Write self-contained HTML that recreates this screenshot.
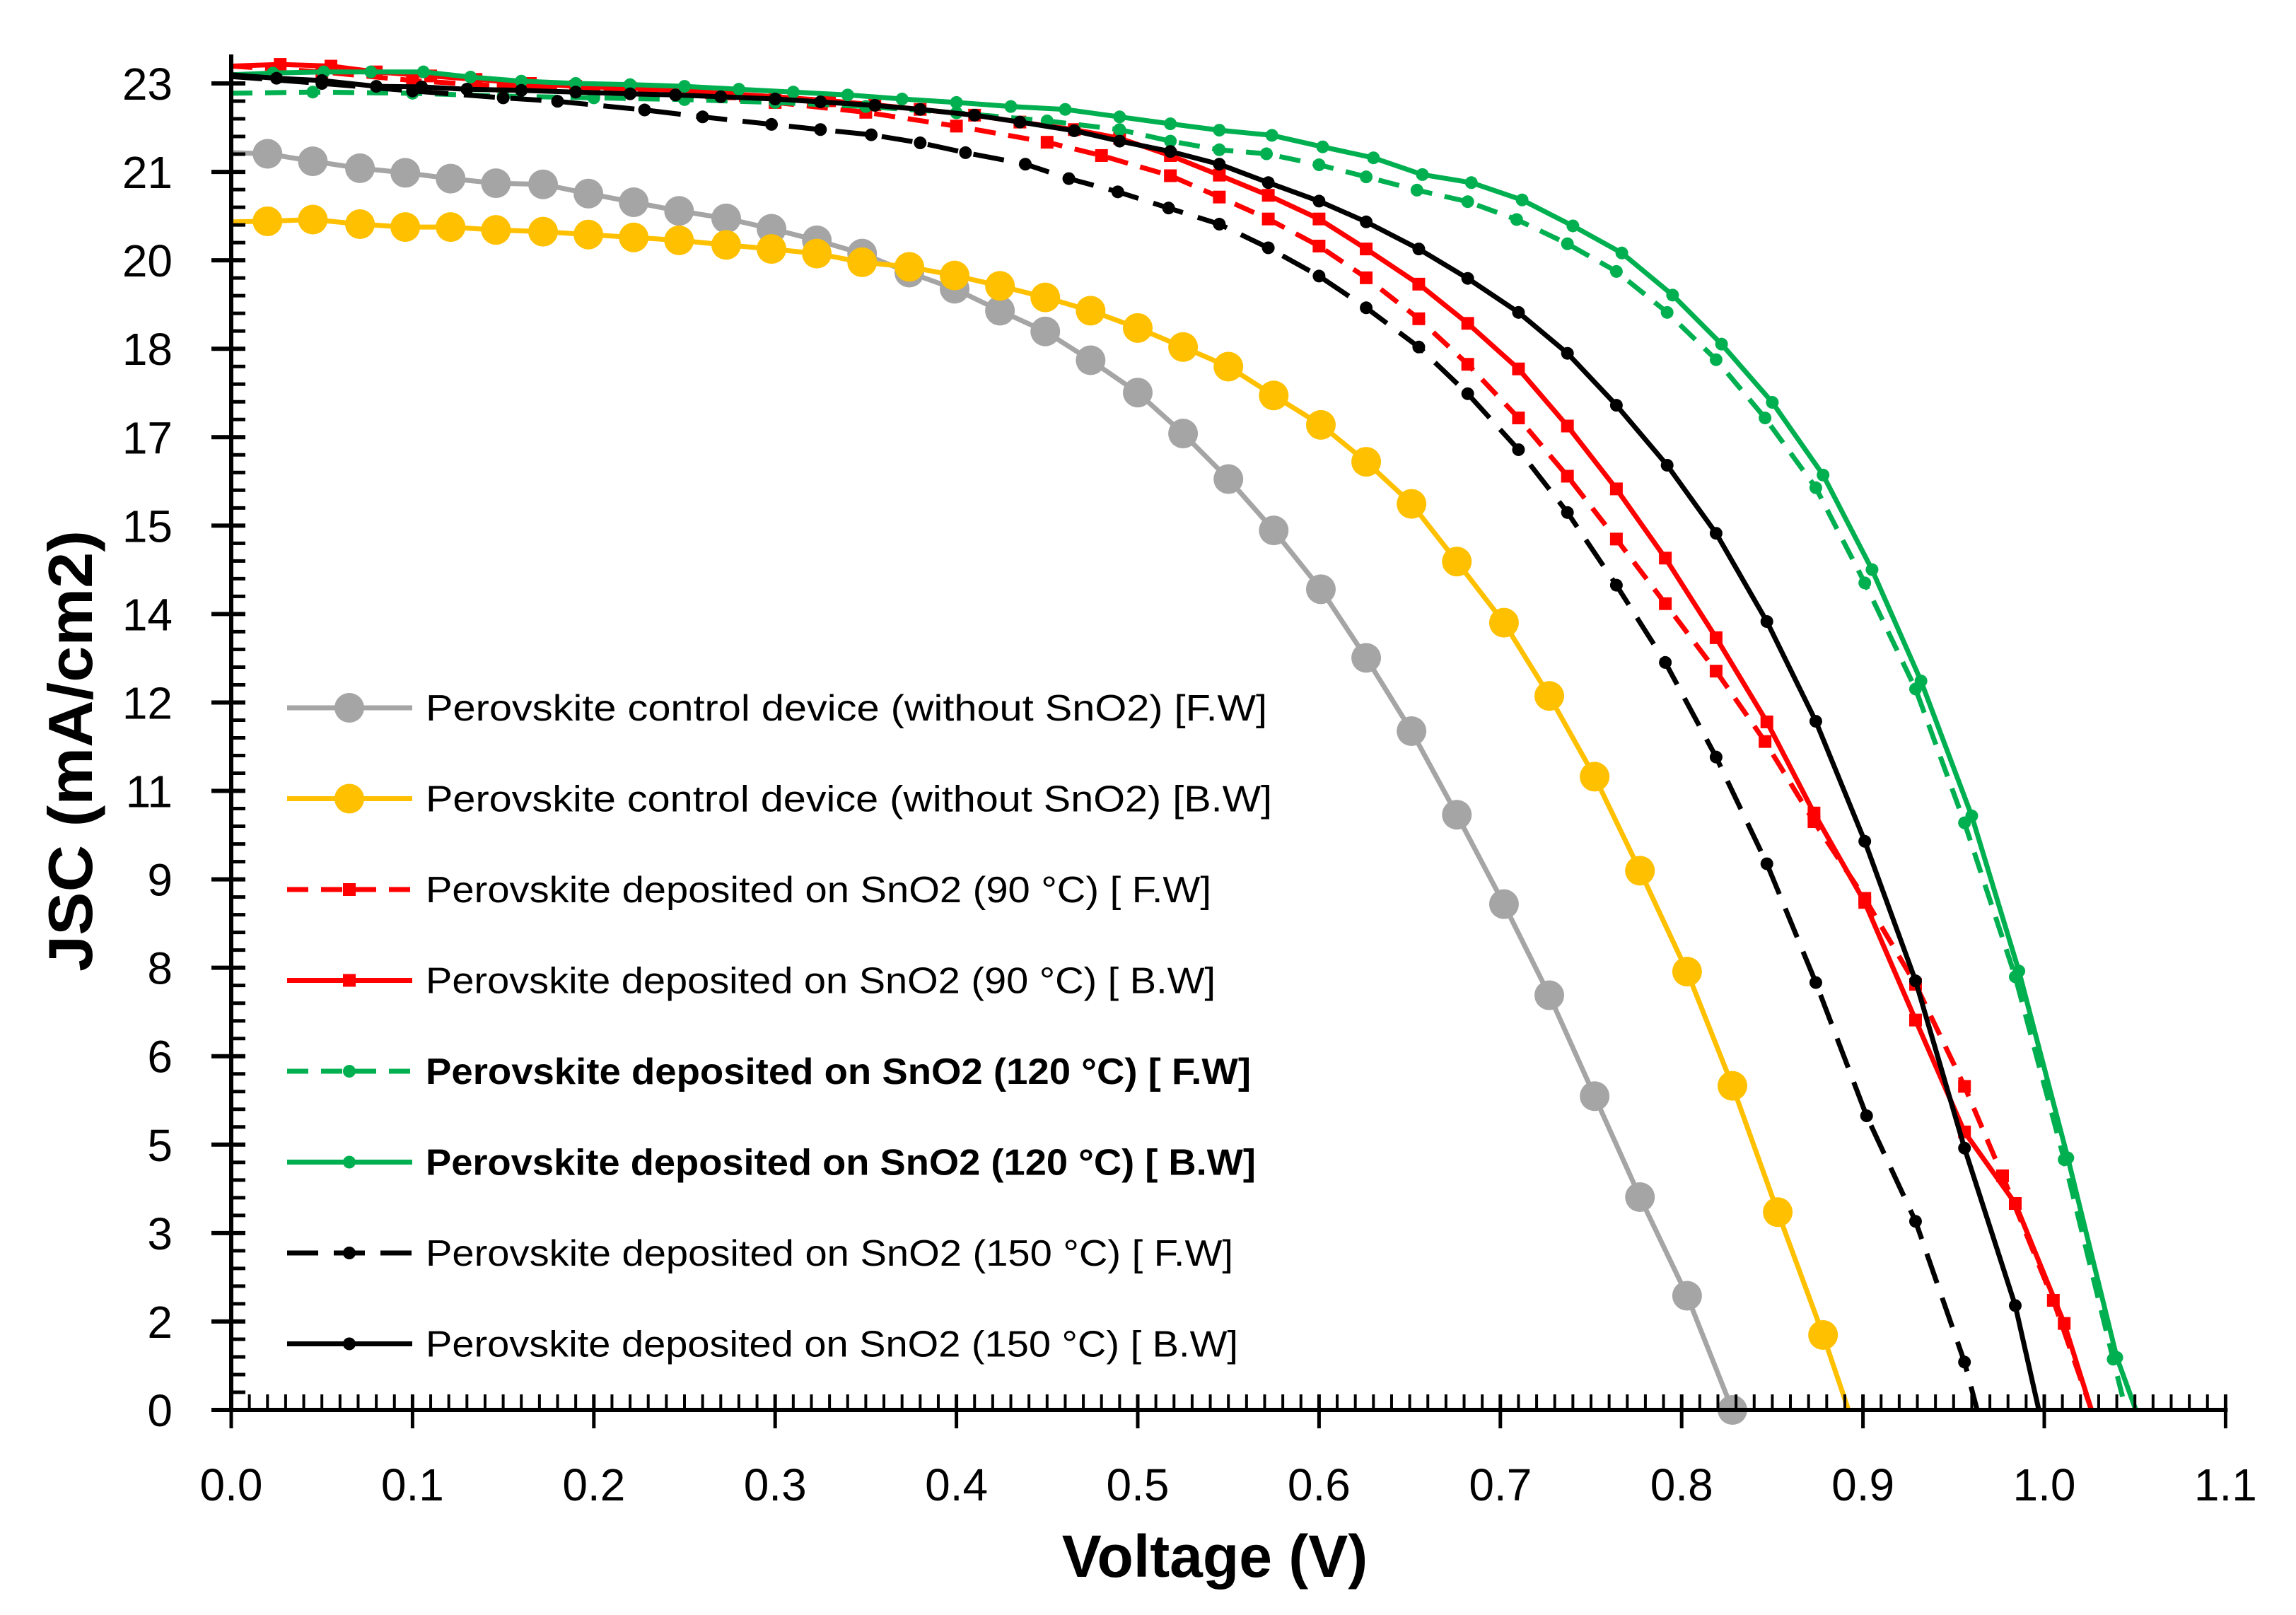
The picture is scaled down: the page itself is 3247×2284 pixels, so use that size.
<!DOCTYPE html>
<html><head><meta charset="utf-8"><style>
html,body{margin:0;padding:0;background:#fff;}
svg{display:block;}
text{font-family:"Liberation Sans",sans-serif;}
</style></head><body>
<svg id="chart" width="3247" height="2284" viewBox="0 0 3247 2284" xmlns="http://www.w3.org/2000/svg">
<rect x="0" y="0" width="3247" height="2284" fill="#fff"/>
<g id="series-layer"></g>
<g id="axis-layer"></g>
<g id="legend-layer"></g>
</svg>
<script>
// ---- data (voltage in V, current density in mA/cm2) ----
const xTicks = ["0.0","0.1","0.2","0.3","0.4","0.5","0.6","0.7","0.8","0.9","1.0","1.1"];
const yTickLabels = ["0","2","3","5","6","8","9","11","12","14","15","17","18","20","21","23"];

const greyV = [0,0.020,0.045,0.071,0.096,0.121,0.146,0.172,0.197,0.222,0.247,0.273,0.298,0.323,0.348,0.374,0.399,0.424,0.449,0.474,0.500,0.525,0.550,0.575,0.601,0.626,0.651,0.676,0.702,0.727,0.752,0.777,0.803,0.828];
const greyJ = [21.8,21.78,21.65,21.53,21.45,21.35,21.27,21.25,21.09,20.94,20.79,20.66,20.48,20.28,20.05,19.72,19.44,19.06,18.70,18.20,17.64,16.93,16.14,15.25,14.23,13.04,11.77,10.32,8.77,7.19,5.44,3.69,1.98,0];

const yellowV = [0,0.020,0.045,0.071,0.096,0.121,0.146,0.172,0.197,0.222,0.247,0.273,0.298,0.323,0.348,0.374,0.399,0.424,0.449,0.474,0.500,0.525,0.550,0.575,0.601,0.626,0.651,0.676,0.702,0.727,0.752,0.777,0.803,0.828,0.853,0.878,0.892];
const yellowJ = [20.6,20.61,20.64,20.56,20.51,20.51,20.46,20.43,20.38,20.33,20.28,20.20,20.13,20.05,19.90,19.82,19.67,19.49,19.29,19.06,18.76,18.43,18.09,17.59,17.08,16.44,15.71,14.71,13.65,12.38,10.98,9.35,7.60,5.62,3.43,1.30,0];

const red90FwV = [0,0.05,0.1,0.15,0.2,0.25,0.3,0.35,0.4,0.45,0.48,0.518,0.545,0.572,0.600,0.626,0.655,0.682,0.710,0.737,0.764,0.791,0.819,0.846,0.873,0.901,0.929,0.956,0.977,1.005,1.026];
const red90FwJ = [23.3,23.2,23.05,22.95,22.88,22.8,22.67,22.5,22.26,21.98,21.75,21.4,21.03,20.65,20.18,19.63,18.92,18.13,17.20,16.19,15.1,13.98,12.81,11.59,10.2,8.87,7.38,5.61,4.06,1.9,0];

const red90BwV = [0,0.027,0.055,0.08,0.11,0.135,0.165,0.19,0.22,0.245,0.275,0.30,0.33,0.355,0.38,0.41,0.435,0.465,0.49,0.518,0.545,0.572,0.600,0.626,0.655,0.682,0.710,0.737,0.764,0.791,0.819,0.847,0.873,0.901,0.929,0.956,0.984,1.011,1.026];
const red90BwJ = [23.3,23.33,23.3,23.2,23.13,23.07,23.0,22.95,22.92,22.88,22.82,22.77,22.7,22.63,22.55,22.45,22.33,22.2,22.05,21.75,21.41,21.06,20.65,20.13,19.52,18.84,18.05,17.06,15.97,14.77,13.39,11.93,10.35,8.80,6.76,4.82,3.58,1.50,0];

const green120FwV = [0,0.045,0.1,0.15,0.2,0.25,0.3,0.35,0.4,0.45,0.49,0.518,0.545,0.571,0.600,0.626,0.654,0.682,0.709,0.737,0.764,0.792,0.819,0.846,0.874,0.901,0.929,0.956,0.984,1.011,1.038,1.045];
const green120FwJ = [22.83,22.85,22.83,22.78,22.75,22.72,22.67,22.6,22.49,22.35,22.2,22.0,21.85,21.78,21.59,21.38,21.15,20.95,20.64,20.22,19.74,19.03,18.21,17.20,15.99,14.34,12.50,10.18,7.51,4.34,0.88,0];

const green120BwV = [0,0.023,0.051,0.077,0.106,0.132,0.16,0.19,0.22,0.25,0.28,0.31,0.34,0.37,0.4,0.43,0.46,0.49,0.518,0.545,0.574,0.602,0.630,0.657,0.684,0.712,0.740,0.767,0.795,0.822,0.850,0.878,0.905,0.932,0.960,0.986,1.013,1.040,1.0505];
const green120BwJ = [23.15,23.18,23.2,23.2,23.2,23.11,23.04,23.0,22.98,22.95,22.9,22.85,22.8,22.73,22.67,22.6,22.55,22.42,22.3,22.19,22.10,21.90,21.71,21.42,21.28,20.98,20.53,20.06,19.33,18.48,17.47,16.21,14.57,12.64,10.30,7.61,4.37,0.91,0];

const black150FwV = [0,0.05,0.1,0.15,0.18,0.228,0.26,0.298,0.325,0.353,0.38,0.405,0.438,0.462,0.489,0.517,0.545,0.572,0.600,0.626,0.655,0.682,0.710,0.737,0.764,0.791,0.819,0.847,0.874,0.902,0.929,0.956,0.963];
const black150FwJ = [23.12,23.0,22.87,22.75,22.69,22.54,22.42,22.29,22.2,22.11,21.97,21.80,21.6,21.35,21.12,20.84,20.56,20.15,19.66,19.11,18.43,17.62,16.65,15.56,14.3,12.96,11.32,9.47,7.41,5.10,3.27,0.83,0];

const black150BwV = [0,0.025,0.05,0.08,0.105,0.13,0.16,0.19,0.22,0.245,0.27,0.30,0.325,0.355,0.38,0.41,0.435,0.465,0.49,0.518,0.545,0.572,0.600,0.626,0.655,0.682,0.710,0.737,0.764,0.792,0.819,0.847,0.874,0.901,0.929,0.956,0.984,0.997];
const black150BwJ = [23.15,23.09,23.05,22.95,22.94,22.9,22.88,22.85,22.82,22.8,22.77,22.73,22.68,22.62,22.55,22.45,22.33,22.18,22.0,21.82,21.60,21.28,20.96,20.60,20.13,19.62,19.03,18.32,17.42,16.38,15.20,13.67,11.94,9.86,7.44,4.54,1.81,0];

const legendLabels = [
 "Perovskite control device (without SnO2) [F.W]",
 "Perovskite control device (without SnO2) [B.W]",
 "Perovskite deposited on SnO2 (90 °C) [ F.W]",
 "Perovskite deposited on SnO2 (90 °C) [ B.W]",
 "Perovskite deposited on SnO2 (120 °C) [ F.W]",
 "Perovskite deposited on SnO2 (120 °C) [ B.W]",
 "Perovskite deposited on SnO2 (150 °C) [ F.W]",
 "Perovskite deposited on SnO2 (150 °C) [ B.W]"
];

// ---- layout / scales ----
const NS = "http://www.w3.org/2000/svg";
const X0 = 327, XPER = 2564;
const Y0 = 1994, YMAX = 23, YSPAN = 1876;
function xs(v){ return X0 + v * XPER; }
function ys(j){ return Y0 - j / YMAX * YSPAN; }
function mk(tag, attrs, parent){
  const e = document.createElementNS(NS, tag);
  for (const k in attrs) e.setAttribute(k, attrs[k]);
  parent.appendChild(e); return e;
}
const sLayer = document.getElementById("series-layer");
const aLayer = document.getElementById("axis-layer");
const lLayer = document.getElementById("legend-layer");

const styles = [
 {name:"series-control-fw", v:greyV, j:greyJ, color:"#A5A5A5", dash:"", marker:"circle", r:21, w:7, markLast:true},
 {name:"series-control-bw", v:yellowV, j:yellowJ, color:"#FFC000", dash:"", marker:"circle", r:21, w:7, markLast:false},
 {name:"series-90c-fw", v:red90FwV, j:red90FwJ, color:"#FF0000", dash:"30,18", marker:"square", r:9, w:7, markLast:false},
 {name:"series-90c-bw", v:red90BwV, j:red90BwJ, color:"#FF0000", dash:"", marker:"square", r:9, w:7, markLast:false},
 {name:"series-120c-fw", v:green120FwV, j:green120FwJ, color:"#00B050", dash:"30,18", marker:"circle", r:9, w:7, markLast:false},
 {name:"series-120c-bw", v:green120BwV, j:green120BwJ, color:"#00B050", dash:"", marker:"circle", r:9, w:7, markLast:false},
 {name:"series-150c-fw", v:black150FwV, j:black150FwJ, color:"#000000", dash:"44,22", marker:"circle", r:9, w:7, markLast:false},
 {name:"series-150c-bw", v:black150BwV, j:black150BwJ, color:"#000000", dash:"", marker:"circle", r:9, w:7, markLast:false}
];

function drawMarker(parent, s, cx, cy){
  let m;
  if (s.marker === "square"){
    m = mk("rect", {x:cx-s.r, y:cy-s.r, width:2*s.r, height:2*s.r, fill:s.color}, parent);
  } else {
    m = mk("circle", {cx:cx, cy:cy, r:s.r, fill:s.color}, parent);
  }
  return m;
}

// ---- axes ----
const yAxis = mk("line", {x1:X0, y1:77, x2:X0, y2:Y0+3, stroke:"#000", "stroke-width":6}, aLayer);


const xAxis = mk("line", {x1:X0-3, y1:Y0, x2:xs(1.1)+3, y2:Y0, stroke:"#000", "stroke-width":6}, aLayer);



const yStep = YSPAN / 15;
for (let i = 0; i < yTickLabels.length; i++){
  const y = Y0 - i * yStep;
  const t = mk("line", {x1:X0-28, y1:y, x2:X0+20, y2:y, stroke:"#000", "stroke-width":6}, aLayer);
  
  
  const lb = mk("text", {x:244, y:y+23, "text-anchor":"end", "font-size":64, fill:"#000"}, aLayer);
  lb.textContent = yTickLabels[i];
  
  
}
for (let i = 0; i < 15*5 + 1; i++){
  if (i % 5 === 0) continue;
  const y = Y0 - i * yStep / 5;
  if (y < 80) break;
  const t = mk("line", {x1:X0, y1:y, x2:X0+20, y2:y, stroke:"#000", "stroke-width":5}, aLayer);
  
  
}
for (let i = 0; i <= 110; i++){
  const x = xs(i * 0.01);
  if (i % 10 === 0){
    const t = mk("line", {x1:x, y1:Y0-22, x2:x, y2:Y0+26, stroke:"#000", "stroke-width":5}, aLayer);
    
    
  } else {
    const t = mk("line", {x1:x, y1:Y0-22, x2:x, y2:Y0, stroke:"#000", "stroke-width":4}, aLayer);
    
    
  }
}
for (let i = 0; i < xTicks.length; i++){
  const lb = mk("text", {x:xs(i*0.1), y:2122, "text-anchor":"middle", "font-size":64, fill:"#000"}, aLayer);
  lb.textContent = xTicks[i];
  
  
}
const xTitle = mk("text", {x:1718, y:2230, "text-anchor":"middle", "font-size":84, "font-weight":"bold", fill:"#000"}, aLayer);
xTitle.textContent = "Voltage (V)";


const yTitle = mk("text", {x:0, y:0, "text-anchor":"middle", "font-size":88, "font-weight":"bold", fill:"#000", transform:"translate(130,1062) rotate(-90)", textLength:624, lengthAdjust:"spacingAndGlyphs"}, aLayer);
yTitle.textContent = "JSC (mA/cm2)";



// ---- series ----
for (const s of styles){
  const g = mk("g", {}, sLayer);
  
  
  let d = "";
  for (let i = 0; i < s.v.length; i++){
    d += (i ? "L" : "M") + xs(s.v[i]).toFixed(1) + "," + ys(s.j[i]).toFixed(1);
  }
  const p = mk("path", {d:d, fill:"none", stroke:s.color, "stroke-width":s.w, "stroke-linejoin":"round"}, g);
  if (s.dash) p.setAttribute("stroke-dasharray", s.dash);
  
  
  const n = s.markLast ? s.v.length : s.v.length - 1;
  for (let i = 1; i < n; i++){
    const m = drawMarker(g, s, xs(s.v[i]), ys(s.j[i]));
    
    
  }
}

// ---- legend ----
const legendW = [1190,1197,1111,1117,1167,1174,1142,1149];
for (let i = 0; i < styles.length; i++){
  const s = styles[i];
  const y = 1001 + i * 128.5;
  const g = mk("g", {}, lLayer);
  
  
  const ln = mk("line", {x1:406, y1:y, x2:583, y2:y, stroke:s.color, "stroke-width":s.w}, g);
  if (s.dash) ln.setAttribute("stroke-dasharray", s.dash);
  
  
  const m = drawMarker(g, s, 494, y);
  
  
  const bold = (i === 4 || i === 5);
  const t = mk("text", {x:602, y:y+18, "font-size":52, fill:"#000", textLength:legendW[i], lengthAdjust:"spacingAndGlyphs"}, g);
  if (bold) t.setAttribute("font-weight", "bold");
  t.textContent = legendLabels[i];
  
  
}
</script>
</body></html>
